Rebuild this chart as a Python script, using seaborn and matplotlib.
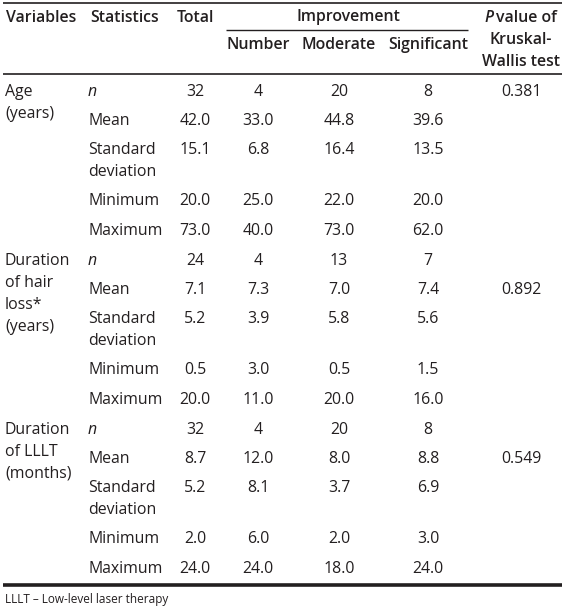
import numpy as np
import matplotlib
matplotlib.use("Agg")
import matplotlib.pyplot as plt
import seaborn as sns

# Table contents
variables = ["Age\n(years)", "Duration\nof hair\nloss*\n(years)", "Duration\nof LLLT\n(months)"]
statistics = ["n", "Mean", "Standard\ndeviation", "Minimum", "Maximum"]
total = [[32, 42.0, 15.1, 20.0, 73.0],
         [24, 7.1, 5.2, 0.5, 20.0],
         [32, 8.7, 5.2, 2.0, 24.0]]
number = [[4, 33.0, 6.8, 25.0, 40.0],
          [4, 7.3, 3.9, 3.0, 11.0],
          [4, 12.0, 8.1, 6.0, 24.0]]
moderate = [[20, 44.8, 16.4, 22.0, 73.0],
            [13, 7.0, 5.8, 0.5, 20.0],
            [20, 8.0, 3.7, 2.0, 18.0]]
significant = [[8, 39.6, 13.5, 20.0, 62.0],
               [7, 7.4, 5.6, 1.5, 16.0],
               [8, 8.8, 6.9, 3.0, 24.0]]
p_values = ["0.381", "0.892", "0.549"]
p_row = [0, 1, 1]  # statistic row the p value is printed on
footnote = "LLLT \u2013 Low-level laser therapy"

sns.set_theme(style="white")
plt.rcParams["font.family"] = ["Open Sans", "DejaVu Sans"]

ink = "#231f20"
fs = 11.4
line_h = 22

fig = plt.figure(figsize=(5.65, 6.16), dpi=100)
ax = fig.add_axes([0, 0, 1, 1])
ax.set_xlim(0, 565)
ax.set_ylim(616, 0)
ax.axis("off")

# layout (pixel-like coordinates)
x_var, x_stat = 5, 88
col_x = [195, 258, 339, 428]
x_p = 521
block_top = [92, 261, 430]
row_off = [0, 29, 58, 109, 139]


def fmt(v):
    return str(v) if isinstance(v, int) else "{:.1f}".format(v)


def lines(x, y, s, **kw):
    for i, part in enumerate(s.split("\n")):
        ax.text(x, y + i * line_h, part, va="center", color=ink, fontsize=fs, **kw)


# header
hw = "semibold"
ax.text(6, 18, "Variables", va="center", color=ink, fontsize=fs, fontweight=hw)
ax.text(90, 18, "Statistics", va="center", color=ink, fontsize=fs, fontweight=hw)
ax.text(col_x[0], 18, "Total", va="center", ha="center", color=ink, fontsize=fs, fontweight=hw)
ax.text(348, 17, "Improvement", va="center", ha="center", color=ink, fontsize=fs, fontweight=hw)
for x, lab in zip(col_x[1:], ["Number", "Moderate", "Significant"]):
    ax.text(x, 45, lab, va="center", ha="center", color=ink, fontsize=fs, fontweight=hw)
ax.text(484, 18, "P", va="center", color=ink, fontsize=fs, fontweight=hw, style="italic")
ax.text(496, 18, "value of", va="center", color=ink, fontsize=fs, fontweight=hw)
ax.text(x_p, 40, "Kruskal-", va="center", ha="center", color=ink, fontsize=fs, fontweight=hw)
ax.text(x_p, 62, "Wallis test", va="center", ha="center", color=ink, fontsize=fs, fontweight=hw)

# rules
ax.hlines(2.5, 3, 562, color=ink, lw=1.2)
ax.hlines(30, 226, 468, color=ink, lw=1.0)
ax.hlines(74, 3, 562, color=ink, lw=1.2)
ax.hlines(585, 3, 562, color=ink, lw=2.6)

# body
for b in range(len(variables)):
    top = block_top[b]
    lines(x_var, top, variables[b])
    for r, stat in enumerate(statistics):
        y = top + row_off[r]
        if stat == "n":
            ax.text(x_stat, y, "n", va="center", color=ink, fontsize=fs, style="italic")
        else:
            lines(x_stat, y, stat)
        for x, col in zip(col_x, [total, number, moderate, significant]):
            ax.text(x, y, fmt(col[b][r]), va="center", ha="center", color=ink, fontsize=fs)
    ax.text(x_p, top + row_off[p_row[b]], p_values[b], va="center", ha="center",
            color=ink, fontsize=fs)

ax.text(5, 600, footnote, va="center", color=ink, fontsize=8.5)

fig.savefig("out.png", dpi=100, facecolor="white")
